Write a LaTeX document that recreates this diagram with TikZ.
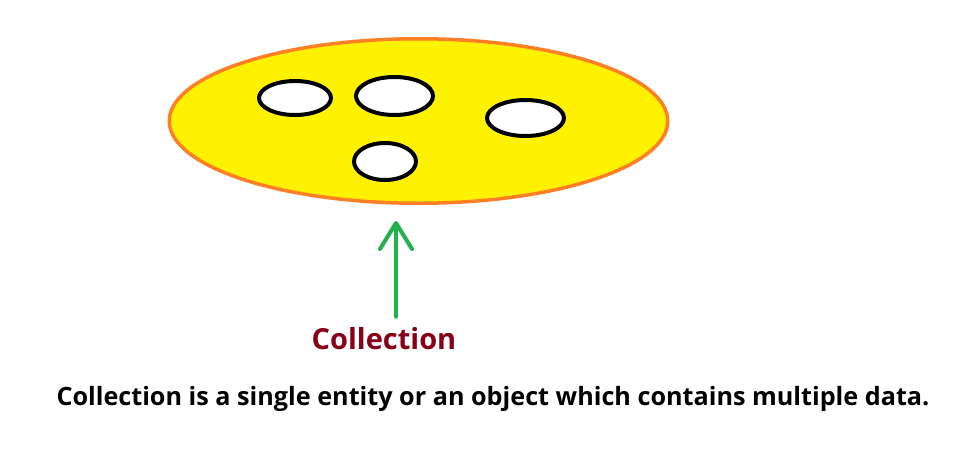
\documentclass[tikz,border=0pt]{standalone}
\usepackage{fontspec}
\setmainfont{Open Sans}
\usetikzlibrary{shapes.geometric,positioning,arrows.meta}
\definecolor{pyellow}{RGB}{255,242,0}
\definecolor{porange}{RGB}{255,127,39}
\definecolor{pgreen}{RGB}{34,177,76}
\definecolor{pdarkred}{RGB}{136,0,21}

\begin{document}
\begin{tikzpicture}[
    x=1pt, y=-1pt,
    blob/.style ={
        ellipse,
        draw=porange,
        fill=pyellow,
        line width=3.5pt,
        inner sep=0pt,
        minimum width=498.5pt,
        minimum height=164.5pt
    },
    item/.style ={
        ellipse,
        draw=black,
        fill=white,
        line width=4pt,
        inner sep=0pt
    },
    pointer/.style ={
        draw=pgreen,
        line width=4pt,
        line cap=round,
        -{Straight Barb[length=26pt,width=32pt,round]}
    }
    ]
    \useasboundingbox (0,0) rectangle (978,458);

    \node[blob] (coll) at (418.5,121) {};

    \foreach \x/ \pos/ \w/ \h in {{d1/(295,98)/72/34}, {d2/(394.5,96)/77/38},
                                 {d3/(525.5,118)/77/36}, {d4/(385,161.5)/62/37}}
        \node[item, minimum width=\w pt, minimum height=\h pt] (\x) at \pos {};

    \node[anchor=base, inner sep=0pt, text=pdarkred,
          font=\fontsize{29}{32}\selectfont\bfseries] (label) at (384,349) {Collection};
    \node[anchor=base, inner sep=0pt,
          font=\fontsize{25.2}{28}\selectfont\bfseries] (note) at (493,405)
          {Collection is a single entity or an object which contains multiple data.};

    \coordinate (tip) at (396,221);
    \draw[pointer, shorten <=10pt] (label.north -| tip) -- (tip);
\end{tikzpicture}
\end{document}
